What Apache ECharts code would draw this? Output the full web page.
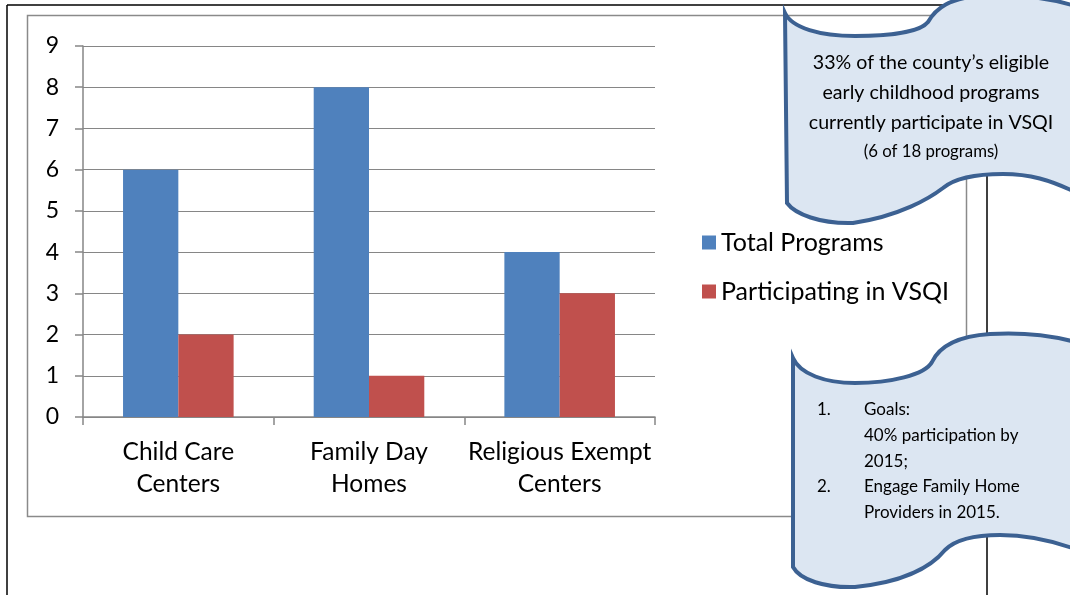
<!DOCTYPE html>
<html><head><meta charset="utf-8">
<script src="https://cdn.jsdelivr.net/npm/echarts@6/dist/echarts.min.js"></script>
<style>html,body{margin:0;padding:0;background:#fff}#c{width:1070px;height:595px}</style>
</head><body><div id="c"></div>
<script>
const categories = ['Child Care\nCenters', 'Family Day\nHomes', 'Religious Exempt\nCenters'];
const totalPrograms = [6, 8, 4];
const participating = [2, 1, 3];
const seriesNames = ['Total Programs', 'Participating in VSQI'];
const yTicks = { min: 0, max: 9, interval: 1 };
const note1 = ['33% of the county\u2019s eligible', 'early childhood programs', 'currently participate in VSQI'];
const note1Small = '(6 of 18 programs)';
const goals = [['1.', 'Goals:'], ['', '40% participation by'], ['', '2015;'], ['2.', 'Engage Family Home'], ['', 'Providers in 2015.']];

const FONT = 'Lato, "Open Sans", sans-serif';
const chart = echarts.init(document.getElementById('c'), null, {renderer: 'canvas'});
const fill = '#DCE6F2', edge = '#3C6192';
const topPath = 'M785 13 C792 28 820 36 855 36 C890 36 920 32 928 22 C936 8 950 -2 980 -4 C1020 -6 1050 -2 1075 6 L1075 192 C1050 180 1030 174 1003 174 C975 174 955 178 943 188 C930 198 900 216 853 223 C820 224 795 214 787 203 Z';
const botPath = 'M793 358 C800 374 825 383 855 383 C890 383 925 375 932 362 C940 345 960 336 990 334 C1025 332 1050 335 1075 342 L1075 549 C1050 540 1025 535 1000 535 C975 535 955 540 945 550 C932 566 905 582 855 587 C825 588 800 580 793 567 Z';

const graphics = [
  {type:'rect', shape:{x:27.5,y:15.5,width:939,height:501}, style:{fill:'none', stroke:'#8a8a8a', lineWidth:1.5}, z:1},
  {type:'line', shape:{x1:7,y1:5,x2:7,y2:600}, style:{stroke:'#000', lineWidth:1.5}, z:1},
  {type:'line', shape:{x1:7,y1:5,x2:987,y2:5}, style:{stroke:'#000', lineWidth:1.5}, z:1},
  {type:'line', shape:{x1:987,y1:5,x2:987,y2:600}, style:{stroke:'#000', lineWidth:1.5}, z:1}
];

function renderNotes() {
  const kids = [
    {type:'path', shape:{pathData: topPath}, style:{fill: fill, stroke: edge, lineWidth: 4}},
    {type:'path', shape:{pathData: botPath}, style:{fill: fill, stroke: edge, lineWidth: 4}}
  ];
  note1.forEach((t,i)=>kids.push({type:'text', x:931, y:63+i*30, style:{text:t, fill:'#000', font:'19.6px '+FONT, textAlign:'center', textVerticalAlign:'middle'}}));
  kids.push({type:'text', x:931, y:152, style:{text:note1Small, fill:'#000', font:'16.8px '+FONT, textAlign:'center', textVerticalAlign:'middle'}});
  const gy = [410, 436, 462, 487, 513];
  goals.forEach((g,i)=>{
    if (g[0]) kids.push({type:'text', x:817, y:gy[i], style:{text:g[0], fill:'#000', font:'17px '+FONT, textVerticalAlign:'middle'}});
    kids.push({type:'text', x:864, y:gy[i], style:{text:g[1], fill:'#000', font:'17px '+FONT, textVerticalAlign:'middle'}});
  });
  return {type:'group', children: kids};
}

chart.setOption({
  animation: false,
  textStyle: {fontFamily: FONT},
  grid: {left: 83, right: 415, top: 46, bottom: 178, containLabel: false},
  legend: {
    orient: 'vertical', left: 697, top: 225, itemWidth: 14, itemHeight: 14, itemGap: 24,
    icon: 'rect', data: seriesNames,
    textStyle: {fontSize: 25, color: '#000', fontFamily: FONT}
  },
  xAxis: {
    type: 'category', data: categories,
    axisLine: {lineStyle: {color: '#868686', width: 1.5}},
    axisTick: {show: true, interval: 0, length: 8, lineStyle: {color: '#868686', width: 1.5}},
    axisLabel: {fontSize: 24.5, color: '#000', lineHeight: 32, margin: 19, interval: 0, fontFamily: FONT}
  },
  yAxis: {
    type: 'value', min: yTicks.min, max: yTicks.max, interval: yTicks.interval,
    axisLine: {show: true, lineStyle: {color: '#868686', width: 1.5}},
    axisTick: {show: true, length: 8, lineStyle: {color: '#868686', width: 1.5}},
    splitLine: {lineStyle: {color: '#868686', width: 1.2}},
    axisLabel: {fontSize: 23, color: '#000', margin: 24, fontFamily: FONT}
  },
  series: [
    {name: seriesNames[0], type: 'bar', data: totalPrograms, itemStyle: {color: '#4F81BD'}, barGap: '0%', barCategoryGap: '42%'},
    {name: seriesNames[1], type: 'bar', data: participating, itemStyle: {color: '#C0504D'}, barGap: '0%', barCategoryGap: '42%'},
    {type: 'custom', coordinateSystem: 'none', data: [0], z: 100, silent: true, renderItem: renderNotes}
  ],
  graphic: graphics
});
</script></body></html>
